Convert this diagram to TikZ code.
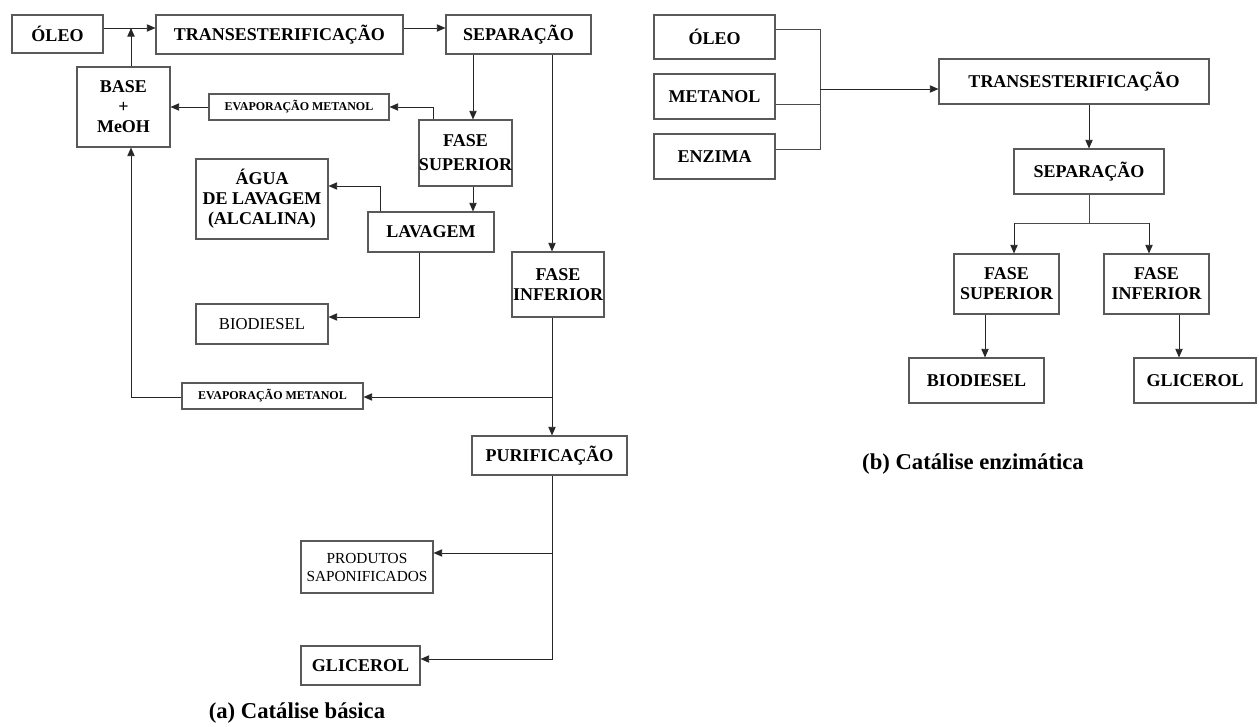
\documentclass[tikz,border=0pt]{standalone}
\usepackage{fontspec}
\setmainfont{Liberation Serif}
\usepackage{tikz}
\usetikzlibrary{arrows.meta,positioning}
\tikzset{
    %Define standard arrow tip
    >={Triangle[length=6.5pt,width=5.5pt]},
    %Define style for boxes
    caixa/.style={
           rectangle,
           draw=black!65, line width=0.8pt,
           inner sep=0pt,
           align=center,
           font=\fontsize{13.5}{15}\selectfont\bfseries},
    caixafina/.style={
           caixa,
           font=\fontsize{12.5}{13.5}\selectfont},
    caixapeq/.style={
           caixa,
           font=\fontsize{9}{11}\selectfont\bfseries},
    legenda/.style={
           font=\fontsize{17}{19}\selectfont\bfseries},
    % Define arrow style
    seta/.style={
           ->,
           line width=0.7pt,
           black!85},
    linha/.style={
           line width=0.6pt,
           black!70}
}
\begin{document}
\begin{tikzpicture}[x=0.75pt,y=-0.75pt]
\useasboundingbox (0,0) rectangle (1259,727);
% (a) Catalise basica
\node[caixa, minimum width=68.25pt, minimum height=28.5pt] (oleoA) at (57.5,34) {ÓLEO};
\node[caixa, minimum width=185.25pt, minimum height=29.25pt] (transA) at (279.5,34.5) {TRANSESTERIFICAÇÃO};
\node[caixa, minimum width=108.75pt, minimum height=29.25pt] (sepA) at (518.5,34.5) {SEPARAÇÃO};
\node[caixa, minimum width=69.75pt, minimum height=60pt] (baseA) at (123.5,107) {BASE\\+\\MeOH};
\node[caixapeq, minimum width=135pt, minimum height=19.5pt] (evapA) at (299,107) {EVAPORAÇÃO METANOL};
\node[caixa, minimum width=69.75pt, minimum height=49.5pt, font=\fontsize{13.5}{18}\selectfont\bfseries] (supA) at (465.5,153) {FASE\\SUPERIOR};
\node[caixa, minimum width=99pt, minimum height=60pt] (aguaA) at (262,199) {ÁGUA\\DE LAVAGEM\\(ALCALINA)};
\node[caixa, minimum width=94.5pt, minimum height=30pt] (lavA) at (431,232) {LAVAGEM};
\node[caixafina, minimum width=99pt, minimum height=30pt] (bioA) at (262,324) {BIODIESEL};
\node[caixa, minimum width=69pt, minimum height=48.75pt] (infA) at (558,284.5) {FASE\\INFERIOR};
\node[caixapeq, minimum width=135.75pt, minimum height=19.5pt] (evapB) at (272.5,396) {EVAPORAÇÃO METANOL};
\node[caixa, minimum width=116.25pt, minimum height=29.25pt] (purA) at (549.5,455.5) {PURIFICAÇÃO};
\node[caixafina, minimum width=99pt, minimum height=39pt, font=\fontsize{11.5}{13.5}\selectfont] (prodA) at (367,567) {PRODUTOS\\SAPONIFICADOS};
\node[caixa, minimum width=89.25pt, minimum height=29.25pt] (glicA) at (360.5,665.5) {GLICEROL};
\node[legenda] (legA) at (297,713) {(a) Catálise básica};

\coordinate (jA) at (131,28);
\coordinate (cSup) at (473,0);
\coordinate (cInf) at (552,0);
\coordinate (cEvap) at (433,107);
\coordinate (cAgua) at (380,186);
\coordinate (cBio) at (419,317);
\coordinate (cEvapB) at (552,397);
\coordinate (cProd) at (552,553);
\coordinate (cGlic) at (552,659);

\draw[seta] (oleoA.east |- jA) -- (transA.west |- jA);
\draw[seta] (baseA.north -| jA) -- (jA);
\draw[seta] (transA.east |- jA) -- (sepA.west |- jA);
\draw[seta] (sepA.south -| cSup) -- (supA.north -| cSup);
\draw[seta] (supA.north -| cEvap) |- (evapA.east);
\draw[seta] (evapA.west) -- (baseA.east |- evapA.west);
\draw[seta] (supA.south -| cSup) -- (lavA.north -| cSup);
\draw[seta] (lavA.north -| cAgua) |- (aguaA.east |- cAgua);
\draw[seta] (lavA.south -| cBio) |- (bioA.east |- cBio);
\draw[seta] (sepA.south -| cInf) -- (infA.north -| cInf);
\draw[seta] (infA.south -| cInf) -- (purA.north -| cInf);
\draw[seta] (cEvapB) -- (evapB.east |- cEvapB);
\draw[seta] (evapB.west |- cEvapB) -| (baseA.south -| jA);
\draw[seta] (purA.south -| cInf) |- (glicA.east |- cGlic);
\draw[seta] (cProd) -- (prodA.east |- cProd);

% (b) Catalise enzimatica
\node[caixa, minimum width=90.75pt, minimum height=33pt] (oleoB) at (714.5,37) {ÓLEO};
\node[caixa, minimum width=90.75pt, minimum height=33.75pt] (metB) at (714.5,96.5) {METANOL};
\node[caixa, minimum width=90.75pt, minimum height=33.75pt] (enzB) at (714.5,156.5) {ENZIMA};
\node[caixa, minimum width=202.5pt, minimum height=33.75pt] (transB) at (1074,81.5) {TRANSESTERIFICAÇÃO};
\node[caixa, minimum width=112.5pt, minimum height=33.75pt] (sepB) at (1089,171.5) {SEPARAÇÃO};
\node[caixa, minimum width=78.75pt, minimum height=45pt] (supB) at (1006.5,284) {FASE\\SUPERIOR};
\node[caixa, minimum width=78.75pt, minimum height=45pt] (infB) at (1156.5,284) {FASE\\INFERIOR};
\node[caixa, minimum width=101.25pt, minimum height=33.75pt] (bioB) at (976.5,380.5) {BIODIESEL};
\node[caixa, minimum width=91.5pt, minimum height=33.75pt] (glicB) at (1195,380.5) {GLICEROL};
\node[legenda] (legB) at (973,464) {(b) Catálise enzimática};

\coordinate (busTop) at (820,29);
\coordinate (busMet) at (820,104);
\coordinate (busBot) at (820,149);
\coordinate (busMid) at (820,89);
\coordinate (forkL) at (1014,223);
\coordinate (forkR) at (1149,223);
\coordinate (cSepB) at (1089,0);
\coordinate (cBioB) at (985,0);
\coordinate (cGlicB) at (1179,0);

\draw[linha] (oleoB.east |- busTop) -- (busTop) -- (busBot) -- (enzB.east |- busBot);
\draw[linha] (metB.east |- busMet) -- (busMet);
\draw[seta] (busMid) -- (transB.west |- busMid);
\draw[seta] (transB.south -| cSepB) -- (sepB.north -| cSepB);
\draw[linha] (sepB.south -| cSepB) -- (cSepB |- forkL);
\draw[linha] (forkL) -- (forkR);
\draw[seta] (forkL) -- (supB.north -| forkL);
\draw[seta] (forkR) -- (infB.north -| forkR);
\draw[seta] (supB.south -| cBioB) -- (bioB.north -| cBioB);
\draw[seta] (infB.south -| cGlicB) -- (glicB.north -| cGlicB);
\end{tikzpicture}
\end{document}
